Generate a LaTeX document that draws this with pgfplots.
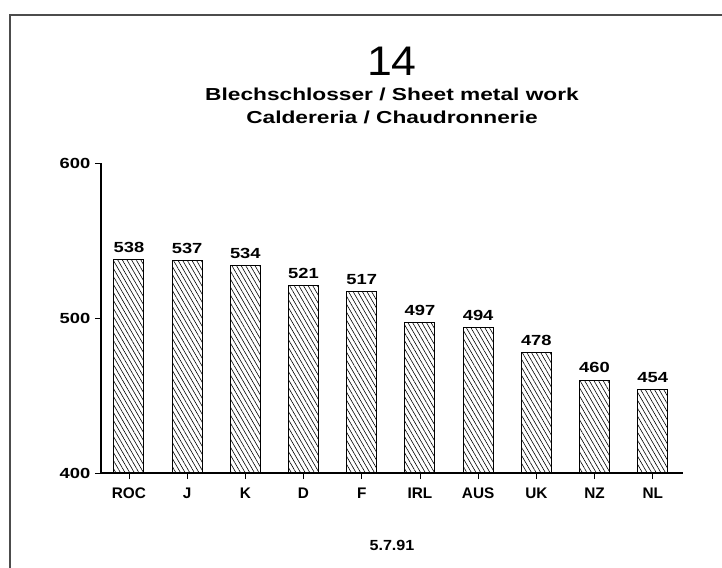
\documentclass[border=0pt]{standalone}
\usepackage{fontspec}
\setmainfont{Liberation Sans}
\usepackage{graphicx}
\usepackage{pgfplots}
\pgfplotsset{compat=1.18}
\usetikzlibrary{patterns.meta}
\begin{document}
\begin{tikzpicture}
\useasboundingbox (0,0) rectangle (541.5pt,-426pt);
\draw[line width=1pt, black!70] (7.5pt,-426pt) -- (7.5pt,-11.25pt) -- (541.5pt,-11.25pt);
\node[font=\fontsize{31}{36}\selectfont] at (294pt,-45.75pt) {\scalebox{1.08}[1]{14}};
\node[font=\bfseries\fontsize{13}{15}\selectfont] at (294pt,-71pt) {\scalebox{1.31}[1]{Blechschlosser / Sheet metal work}};
\node[font=\bfseries\fontsize{13}{15}\selectfont] at (294pt,-88pt) {\scalebox{1.31}[1]{Caldereria / Chaudronnerie}};
\node[font=\bfseries\fontsize{11}{13}\selectfont] at (294pt,-408.75pt) {\scalebox{1.1}[1]{5.7.91}};
\begin{axis}[
  at={(75.75pt,-354.75pt)}, anchor=south west,
  scale only axis, width=436.5pt, height=232.5pt,
  xmin=-0.48, xmax=9.52, ymin=400, ymax=600,
  ytick={400,500,600},
  xtick={0,1,2,3,4,5,6,7,8,9},
  xticklabels={ROC,J,K,D,F,IRL,AUS,UK,NZ,NL},
  axis x line*=bottom, axis y line*=left,
  tick align=outside, major tick length=4.5pt,
  every tick/.style={black, line width=0.6pt},
  axis line style={line width=0.8pt},
  typeset ticklabels with strut,
  xticklabel style={font=\bfseries\fontsize{11.5}{13}\selectfont, yshift=-2pt},
  yticklabel style={font=\bfseries\fontsize{11}{13}\selectfont},
  yticklabel={\scalebox{1.25}[1]{\pgfmathprintnumber{\tick}}},
  /pgf/number format/assume math mode=true,
  ybar, bar width=22.5pt,
  nodes near coords={\scalebox{1.25}[1]{\pgfmathprintnumber{\pgfplotspointmeta}}},
  nodes near coords style={font=\bfseries\fontsize{11}{13}\selectfont, yshift=1.5pt},
]
\addplot[draw=black, line width=0.7pt, pattern={Lines[angle=-60,distance=3pt,line width=0.45pt]}]
  coordinates {(0,538) (1,537) (2,534) (3,521) (4,517) (5,497) (6,494) (7,478) (8,460) (9,454)};
\end{axis}
\end{tikzpicture}
\end{document}
